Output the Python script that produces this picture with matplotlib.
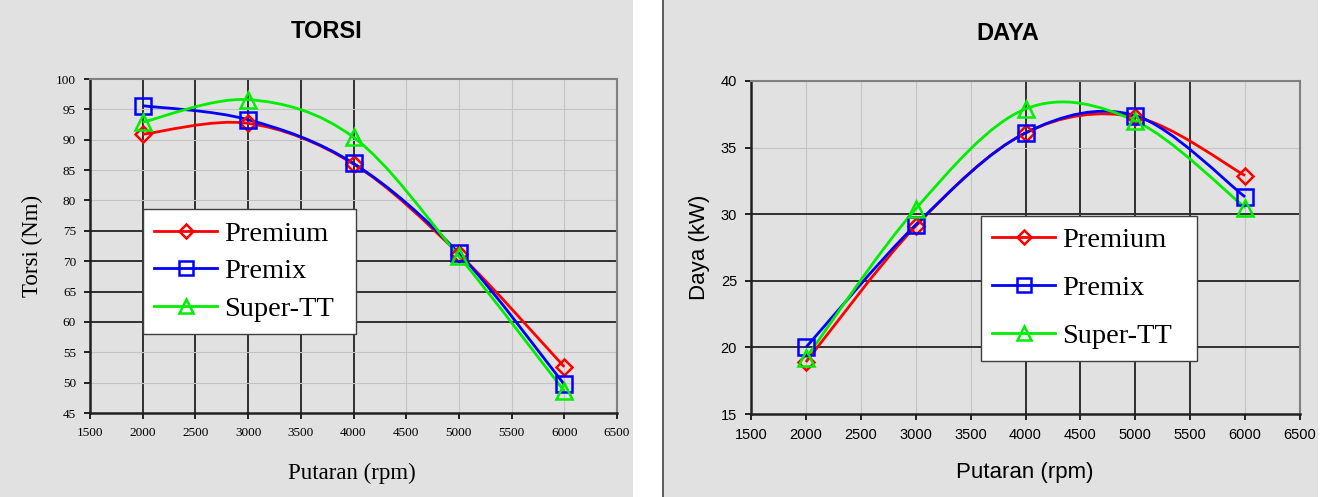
import numpy as np
import matplotlib.pyplot as plt
from matplotlib.path import Path
from matplotlib.patches import PathPatch, Rectangle
from matplotlib.lines import Line2D

rpm = [2000, 3000, 4000, 5000, 6000]
series = ["Premium", "Premix", "Super-TT"]

torsi_premium = [90.9, 92.7, 86.0, 71.2, 52.6]
torsi_premix = [95.6, 93.3, 86.1, 71.3, 49.7]
torsi_super = [92.9, 96.6, 90.4, 70.8, 48.6]

daya_premium = [18.9, 29.1, 36.1, 37.3, 32.9]
daya_premix = [20.0, 29.2, 36.1, 37.4, 31.3]
daya_super = [19.2, 30.4, 37.9, 37.0, 30.5]

colors = ["#ff0000", "#0000ff", "#00ee00"]
markers = ["D", "s", "^"]
msizes = [8, 11, 11]
BG = "#e1e1e1"
W, H = 1325, 497


def smooth_path(x, y):
    # Excel-like smoothed line: cubic bezier with catmull-rom control points
    pts = np.column_stack([x, y]).astype(float)
    n = len(pts)
    verts = [pts[0]]
    codes = [Path.MOVETO]
    for i in range(n - 1):
        p0 = pts[i - 1] if i > 0 else pts[i]
        p1 = pts[i]
        p2 = pts[i + 1]
        p3 = pts[i + 2] if i + 2 < n else pts[i + 1]
        c1 = p1 + (p2 - p0) / 6.0
        c2 = p2 - (p3 - p1) / 6.0
        verts += [c1, c2, p2]
        codes += [Path.CURVE4] * 3
    return Path(verts, codes)


def draw(ax, data, ylim, yticks, dark_x, dark_y, font, tick_size, lab_size, ylabel,
         xlab_pos, ylab_pos, leg_box, leg_space):
    ax.set_facecolor(BG)
    ax.set_xlim(1500, 6500)
    ax.set_ylim(*ylim)
    ax.set_xticks(range(1500, 6501, 500))
    ax.set_yticks(yticks)
    for xv in range(2000, 6001, 500):
        dk = xv in dark_x
        ax.axvline(xv, color="#303030" if dk else "#c4c4c4", lw=1.4 if dk else 0.8, zorder=1)
    for yv in yticks[1:-1]:
        dk = yv in dark_y
        ax.axhline(yv, color="#303030" if dk else "#c4c4c4", lw=1.4 if dk else 0.8, zorder=1)
    for s in ["top", "right"]:
        ax.spines[s].set_color("#808080")
        ax.spines[s].set_linewidth(1.5)
    for s in ["left", "bottom"]:
        ax.spines[s].set_color("#202020")
        ax.spines[s].set_linewidth(1.8)
    ax.tick_params(direction="out", length=4, width=1.2, labelsize=tick_size, pad=6)
    for lb in ax.get_xticklabels() + ax.get_yticklabels():
        lb.set_family(font)
    handles = []
    for vals, c, m, ms in zip(data, colors, markers, msizes):
        ax.add_patch(PathPatch(smooth_path(rpm, vals), fc="none", ec=c, lw=2.0, zorder=3))
        ax.plot(rpm, vals, ls="none", marker=m, ms=ms, mfc="none", mec=c, mew=1.8, zorder=4)
        handles.append(Line2D([], [], color=c, lw=2.0, marker=m, ms=ms - 1, mfc="none", mec=c, mew=1.8))
    ax.set_xlabel("Putaran (rpm)", family=font, fontsize=lab_size)
    ax.set_ylabel(ylabel, family=font, fontsize=lab_size)
    ax.xaxis.set_label_coords(*xlab_pos)
    ax.yaxis.set_label_coords(*ylab_pos)
    ax.xaxis.label.set_va("center")
    ax.yaxis.label.set_va("center")
    leg = ax.legend(handles, series, loc="center left", bbox_to_anchor=leg_box, mode="expand",
                    prop={"family": "Liberation Serif", "size": 20.5}, frameon=True, fancybox=False,
                    framealpha=1, edgecolor="#404040", handlelength=2.2, borderpad=0.4,
                    labelspacing=leg_space, handletextpad=0.25, borderaxespad=0)
    leg.get_frame().set_linewidth(1.0)
    leg.set_zorder(5)


fig = plt.figure(figsize=(W / 100, H / 100), dpi=100)
fig.patches.append(Rectangle((0, 0), 633 / W, 1, transform=fig.transFigure, fc=BG, ec="none", zorder=-5))
fig.patches.append(Rectangle((664 / W, 0), 654 / W, 1, transform=fig.transFigure, fc=BG, ec="none", zorder=-5))
fig.lines.append(Line2D([663 / W, 663 / W], [0, 1], transform=fig.transFigure, color="#404040", lw=1.2))

ax1 = fig.add_axes([90 / W, 1 - 413 / H, 527 / W, 334 / H])
draw(ax1, [torsi_premium, torsi_premix, torsi_super], (45, 100), list(range(45, 101, 5)),
     [2000, 2500, 3000, 3500, 4000], [60, 65, 70, 75], "Liberation Serif", 9.5, 16.5,
     "Torsi (Nm)", (0.497, -0.18), (-0.11, 0.5), (0.1006, 0.2275, 0.404, 0.3925), 0.42)

ax2 = fig.add_axes([751 / W, 1 - 414 / H, 549 / W, 333 / H])
draw(ax2, [daya_premium, daya_premix, daya_super], (15, 40), list(range(15, 41, 5)),
     [4000, 4500, 5000, 5500], [20, 25, 30], "Liberation Sans", 10.5, 16,
     "Daya (kW)", (0.4985, -0.177), (-0.093, 0.5), (0.419, 0.156, 0.393, 0.444), 0.78)

fig.text(327 / W, 1 - 32 / H, "TORSI", family="Liberation Sans", fontweight="bold",
         fontsize=17, ha="center", va="center")
fig.text(1008 / W, 1 - 33 / H, "DAYA", family="Liberation Sans", fontweight="bold",
         fontsize=17, ha="center", va="center")

fig.savefig("out.png", dpi=100, facecolor="white")
